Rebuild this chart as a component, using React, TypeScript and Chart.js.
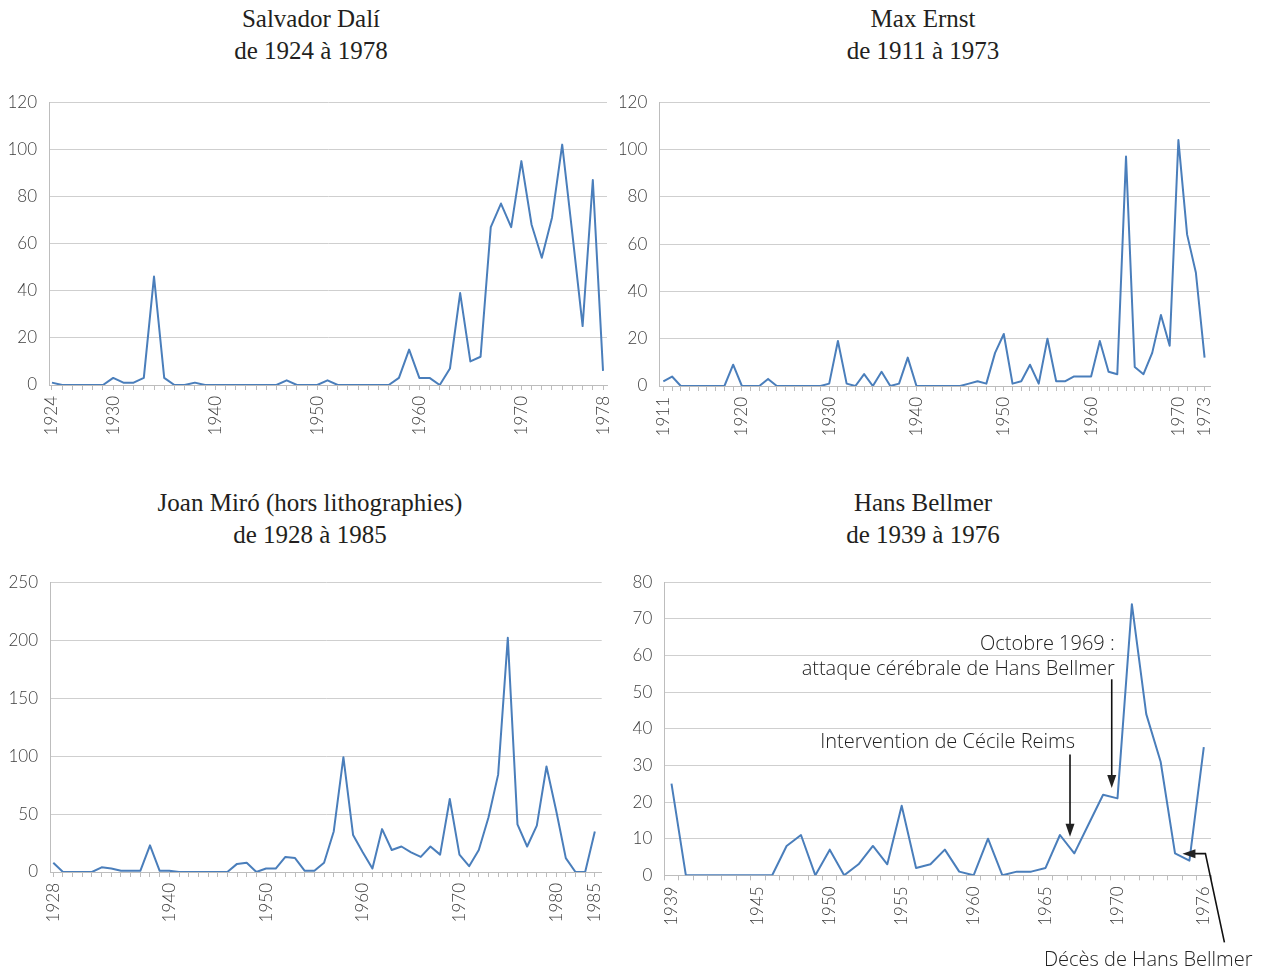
import React, { useEffect, useRef } from 'react';
import { Chart, registerables } from 'chart.js';

Chart.register(...registerables);

// ---------- Data ----------
const daliYears = [
  1924, 1925, 1926, 1927, 1928, 1929, 1930, 1931, 1932, 1933, 1934, 1935, 1936, 1937, 1938, 1939,
  1940, 1941, 1942, 1943, 1944, 1945, 1946, 1947, 1948, 1949, 1950, 1951, 1952, 1953, 1954, 1955,
  1956, 1957, 1958, 1959, 1960, 1961, 1962, 1963, 1964, 1965, 1966, 1967, 1968, 1969, 1970, 1971,
  1972, 1973, 1974, 1975, 1976, 1977, 1978,
];
const daliValues = [
  1, 0, 0, 0, 0, 0, 3, 1, 1, 3, 46, 3, 0, 0, 1, 0,
  0, 0, 0, 0, 0, 0, 0, 2, 0, 0, 0, 2, 0, 0, 0, 0,
  0, 0, 3, 15, 3, 3, 0, 7, 39, 10, 12, 67, 77, 67, 95, 68,
  54, 71, 102, 64, 25, 87, 6,
];
const daliTickLabels = ['1924', '1930', '1940', '1950', '1960', '1970', '1978'];

const ernstYears = [
  1911, 1912, 1913, 1914, 1915, 1916, 1917, 1918, 1919, 1920, 1921, 1922, 1923, 1924, 1925, 1926,
  1927, 1928, 1929, 1930, 1931, 1932, 1933, 1934, 1935, 1936, 1937, 1938, 1939, 1940, 1941, 1942,
  1943, 1944, 1945, 1946, 1947, 1948, 1949, 1950, 1951, 1952, 1953, 1954, 1955, 1956, 1957, 1958,
  1959, 1960, 1961, 1962, 1963, 1964, 1965, 1966, 1967, 1968, 1969, 1970, 1971, 1972, 1973,
];
const ernstValues = [
  2, 4, 0, 0, 0, 0, 0, 0, 9, 0, 0, 0, 3, 0, 0, 0,
  0, 0, 0, 1, 19, 1, 0, 5, 0, 6, 0, 1, 12, 0, 0, 0,
  0, 0, 0, 1, 2, 1, 14, 22, 1, 2, 9, 1, 20, 2, 2, 4,
  4, 4, 19, 6, 5, 97, 8, 5, 14, 30, 17, 104, 64, 48, 12,
];
const ernstTickLabels = ['1911', '1920', '1930', '1940', '1950', '1960', '1970', '1973'];

const miroYears = [
  1928, 1929, 1930, 1931, 1932, 1933, 1934, 1935, 1936, 1937, 1938, 1939, 1940, 1941, 1942, 1943,
  1944, 1945, 1946, 1947, 1948, 1949, 1950, 1951, 1952, 1953, 1954, 1955, 1956, 1957, 1958, 1959,
  1960, 1961, 1962, 1963, 1964, 1965, 1966, 1967, 1968, 1969, 1970, 1971, 1972, 1973, 1974, 1975,
  1976, 1977, 1978, 1979, 1980, 1981, 1982, 1983, 1985,
];
const miroValues = [
  8, 0, 0, 0, 0, 4, 3, 1, 1, 1, 23, 1, 1, 0, 0, 0,
  0, 0, 0, 7, 8, 0, 3, 3, 13, 12, 1, 1, 8, 35, 99, 32,
  17, 3, 37, 19, 22, 17, 13, 22, 15, 63, 15, 5, 19, 47, 84, 202,
  41, 22, 40, 91, 53, 12, 0, 0, 35,
];
const miroTickLabels = ['1928', '1940', '1950', '1960', '1970', '1980', '1985'];

const bellmerYears = [
  1939, 1940, 1941, 1942, 1943, 1944, 1945, 1946, 1947, 1948, 1949, 1950, 1951, 1952, 1953, 1954,
  1955, 1956, 1957, 1958, 1959, 1960, 1961, 1962, 1963, 1964, 1965, 1966, 1967, 1968, 1969, 1970,
  1971, 1972, 1973, 1974, 1975, 1976,
];
const bellmerValues = [
  25, 0, 0, 0, 0, 0, 0, 0, 8, 11, 0, 7, 0, 3, 8, 3,
  19, 2, 3, 7, 1, 0, 10, 0, 1, 1, 2, 11, 6, 14, 22, 21,
  74, 44, 31, 6, 4, 35,
];
const bellmerTickLabels = ['1939', '1945', '1950', '1955', '1960', '1965', '1970', '1976'];

const titles = [
  { lines: ['Salvador Dalí', 'de 1924 à 1978'], cx: 311, top: 3 },
  { lines: ['Max Ernst', 'de 1911 à 1973'], cx: 923, top: 3 },
  { lines: ['Joan Miró (hors lithographies)', 'de 1928 à 1985'], cx: 310, top: 487 },
  { lines: ['Hans Bellmer', 'de 1939 à 1976'], cx: 923, top: 487 },
];

// ---------- Styles ----------
const LINE_COLOR = '#4a7ebb';
const GRID_COLOR = '#cfcfcf';
const AXIS_COLOR = '#bdbdbd';
const TEXT_COLOR = '#3d3d3d';
const SANS = 'Lato, "Open Sans", sans-serif';
const NOTE_FONT = '300 20px "Open Sans", Lato, sans-serif';

function drawArrowHead(ctx: CanvasRenderingContext2D, fx: number, fy: number, tx: number, ty: number) {
  const ang = Math.atan2(ty - fy, tx - fx);
  const len = 13;
  const half = 4.5;
  ctx.beginPath();
  ctx.moveTo(tx, ty);
  ctx.lineTo(tx - len * Math.cos(ang) + half * Math.sin(ang), ty - len * Math.sin(ang) - half * Math.cos(ang));
  ctx.lineTo(tx - len * Math.cos(ang) - half * Math.sin(ang), ty - len * Math.sin(ang) + half * Math.cos(ang));
  ctx.closePath();
  ctx.fill();
}

function arrow(ctx: CanvasRenderingContext2D, fx: number, fy: number, tx: number, ty: number) {
  const ang = Math.atan2(ty - fy, tx - fx);
  ctx.beginPath();
  ctx.moveTo(fx, fy);
  ctx.lineTo(tx - 10 * Math.cos(ang), ty - 10 * Math.sin(ang));
  ctx.stroke();
  drawArrowHead(ctx, fx, fy, tx, ty);
}

const bellmerNotes = {
  id: 'bellmerNotes',
  afterDraw(chart: any) {
    const { ctx, chartArea } = chart;
    const xs = chart.scales.x;
    const ys = chart.scales.y;
    ctx.save();
    ctx.font = NOTE_FONT;
    ctx.fillStyle = '#222222';
    ctx.strokeStyle = '#111';
    ctx.lineWidth = 1.6;
    ctx.textBaseline = 'middle';
    ctx.textAlign = 'right';

    // Octobre 1969
    const i69 = bellmerYears.indexOf(1969);
    const xOct = xs.getPixelForValue(i69 + 0.6);
    ctx.fillText('Octobre 1969 :', xOct + 3, ys.getPixelForValue(63));
    ctx.fillText('attaque cérébrale de Hans Bellmer', xOct + 3, ys.getPixelForValue(56.2));
    arrow(ctx, xOct, ys.getPixelForValue(53.5), xOct, ys.getPixelForValue(23.8));

    // Cécile Reims
    const i66 = bellmerYears.indexOf(1966);
    const xCec = xs.getPixelForValue(i66 + 0.7);
    ctx.fillText('Intervention de Cécile Reims', xCec + 5, ys.getPixelForValue(36.3));
    arrow(ctx, xCec, ys.getPixelForValue(33), xCec, ys.getPixelForValue(10.5));

    // Décès
    const i75 = bellmerYears.indexOf(1975);
    const x75 = xs.getPixelForValue(i75);
    const y75 = ys.getPixelForValue(bellmerValues[i75]);
    ctx.fillText('Décès de Hans Bellmer', x75 + 63, chartArea.bottom + 85);
    const tipX = x75 - 7;
    const tipY = y75 - 7;
    ctx.beginPath();
    ctx.moveTo(x75 + 35, chartArea.bottom + 67);
    ctx.lineTo(x75 + 16, tipY);
    ctx.lineTo(tipX + 10, tipY);
    ctx.stroke();
    drawArrowHead(ctx, x75 + 16, tipY, tipX, tipY);
    ctx.restore();
  },
};

type Spec = {
  years: number[];
  values: number[];
  shown: string[];
  yMax: number;
  yStep: number;
  left: number;
  top: number;
  w: number;
  h: number;
  area: { left: number; top: number; right: number; bottom: number };
  category?: boolean;
  xMin?: number;
  xMax?: number;
  plugins?: any[];
};

const specs: Spec[] = [
  {
    years: daliYears, values: daliValues, shown: daliTickLabels, yMax: 120, yStep: 20,
    left: 0, top: 80, w: 645, h: 370,
    area: { left: 49, top: 101.7, right: 607, bottom: 385 },
    xMin: -0.29, xMax: 54.39,
  },
  {
    years: ernstYears, values: ernstValues, shown: ernstTickLabels, yMax: 120, yStep: 20,
    left: 620, top: 80, w: 648, h: 370,
    area: { left: 659.3, top: 101.7, right: 1210, bottom: 386 },
    xMin: -0.46, xMax: 62.62,
  },
  {
    years: miroYears, values: miroValues, shown: miroTickLabels, yMax: 250, yStep: 50,
    left: 0, top: 560, w: 645, h: 390,
    area: { left: 50, top: 579.3, right: 601.7, bottom: 872 },
    xMin: -0.34, xMax: 56.71,
  },
  {
    years: bellmerYears, values: bellmerValues, shown: bellmerTickLabels, yMax: 80, yStep: 10,
    left: 620, top: 560, w: 648, h: 410,
    area: { left: 664.3, top: 576.7, right: 1211, bottom: 875.3 },
    category: true,
    plugins: [bellmerNotes],
  },
];

function buildConfig(s: Spec): any {
  const padTop = s.area.top - s.top;
  const padRight = s.left + s.w - s.area.right;
  const yW = s.area.left - s.left;
  const xH = s.top + s.h - s.area.bottom;
  const labelFor = (i: number) => {
    const y = s.years[i];
    if (y === undefined) return '';
    const t = String(y);
    return s.shown.includes(t) ? t : '';
  };
  const tickFont = { family: SANS, size: 17, weight: '300' as any };
  const xCommon = {
    grid: { drawOnChartArea: false, drawTicks: true, tickLength: 5, color: AXIS_COLOR, offset: !!s.category },
    border: { display: true, color: AXIS_COLOR, width: 1 },
    ticks: {
      autoSkip: false,
      minRotation: 90,
      maxRotation: 90,
      padding: 6,
      color: TEXT_COLOR,
      font: tickFont,
      callback: (v: any, idx: number) => labelFor(s.category ? idx : Math.round(v)),
    },
    afterFit: (scale: any) => {
      scale.height = xH;
    },
  };
  const xScale = s.category
    ? { type: 'category', offset: true, ...xCommon }
    : {
        type: 'linear',
        min: s.xMin,
        max: s.xMax,
        ...xCommon,
        afterBuildTicks: (scale: any) => {
          scale.ticks = s.years.map((_, i) => ({ value: i }));
        },
      };
  return {
    type: 'line',
    data: {
      labels: s.years.map(String),
      datasets: [
        {
          data: s.category ? s.values : s.values.map((v, i) => ({ x: i, y: v })),
          borderColor: LINE_COLOR,
          borderWidth: 2,
          pointRadius: 0,
          tension: 0,
          fill: false,
          borderJoinStyle: 'round',
        },
      ],
    },
    options: {
      responsive: false,
      animation: false,
      devicePixelRatio: 1,
      layout: { padding: { top: padTop, right: padRight, left: 0, bottom: 0 } },
      plugins: { legend: { display: false }, tooltip: { enabled: false }, title: { display: false } },
      scales: {
        x: xScale,
        y: {
          type: 'linear',
          min: 0,
          max: s.yMax,
          grid: { color: GRID_COLOR, drawTicks: false, lineWidth: 1 },
          border: { display: true, color: AXIS_COLOR },
          ticks: { stepSize: s.yStep, padding: 12, color: TEXT_COLOR, font: tickFont },
          afterFit: (scale: any) => {
            scale.width = yW;
          },
        },
      },
    },
    plugins: s.plugins || [],
  };
}

function LineChart({ spec }: { spec: Spec }) {
  const ref = useRef<HTMLCanvasElement | null>(null);
  useEffect(() => {
    if (!ref.current) return;
    const chart = new Chart(ref.current, buildConfig(spec));
    return () => chart.destroy();
  }, [spec]);
  return (
    <canvas
      ref={ref}
      width={spec.w}
      height={spec.h}
      style={{ position: 'absolute', left: spec.left, top: spec.top, width: spec.w, height: spec.h }}
    />
  );
}

export default function App() {
  return (
    <div
      style={{
        position: 'absolute',
        left: 0,
        top: 0,
        width: 1268,
        height: 970,
        background: '#ffffff',
        overflow: 'hidden',
      }}
    >
      {titles.map((t, i) => (
        <div
          key={i}
          style={{
            position: 'absolute',
            left: t.cx - 250,
            width: 500,
            top: t.top,
            textAlign: 'center',
            fontFamily: '"Liberation Serif", "DejaVu Serif", serif',
            fontSize: 25,
            lineHeight: '32px',
            color: '#231f20',
            fontVariantNumeric: 'oldstyle-nums',
          }}
        >
          {t.lines.map((l, j) => (
            <div key={j}>{l}</div>
          ))}
        </div>
      ))}
      {specs.map((s, i) => (
        <LineChart key={i} spec={s} />
      ))}
    </div>
  );
}
